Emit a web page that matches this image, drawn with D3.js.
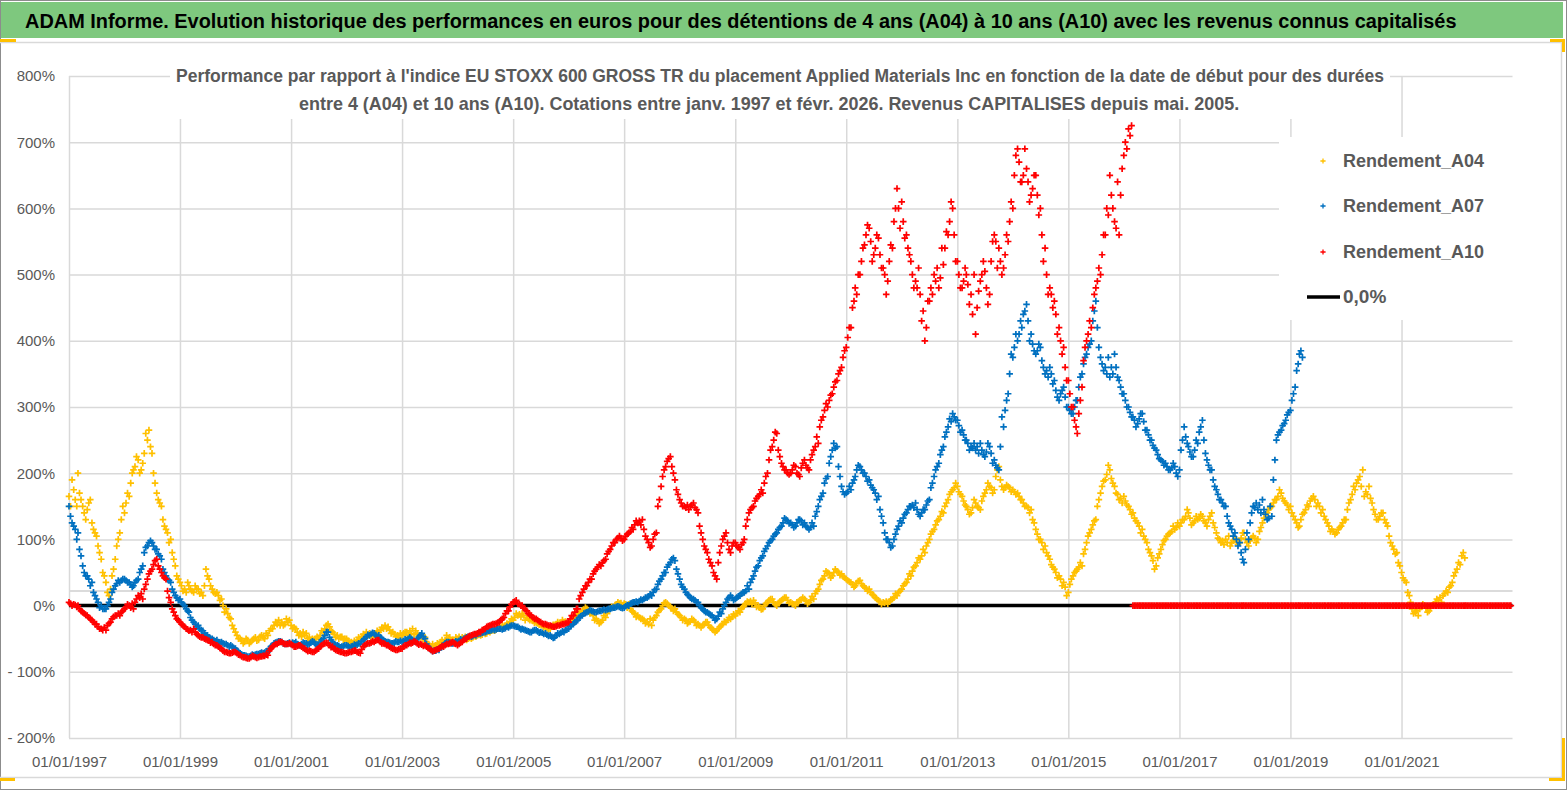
<!DOCTYPE html>
<html>
<head>
<meta charset="utf-8">
<script src="https://cdn.jsdelivr.net/npm/d3@7"></script>
<style>
  body { margin: 0; background: #fff; }
  svg { display: block; }
  text { font-family: "Liberation Sans Narrow", "Arial Narrow", Arial, sans-serif; }
</style>
</head>
<body>
<svg id="chart" width="1567" height="790"></svg>
<script>
// ---- data: three readings per month (start, ~11th, ~21st), from 01/1997 ----
const startDate = new Date(1997, 0, 1);
const readingDays = [0, 10, 20];

// Rendement_A04 (yellow), 01/1997 -> 02/2022, start of month
const a04 = [
  165, 175, 200, 150, 145, 125, 105, 70, 35, 25, 70, 110,      // 1997
  140, 165, 205, 220, 215, 250, 230, 170, 150, 115, 100, 60,   // 1998
  35, 25, 30, 20, 25, 15, 45, 25, 20, 10, -5, -20,             // 1999
  -40, -50, -55, -57, -50, -52, -48, -45, -35, -28, -25, -20,  // 2000
  -30, -35, -42, -45, -48, -52, -50, -40, -28, -40, -45, -47,  // 2001
  -50, -55, -57, -50, -45, -42, -45, -40, -35, -32, -40, -45,  // 2002
  -45, -40, -42, -38, -45, -48, -60, -62, -58, -55, -50, -52,  // 2003
  -50, -48, -52, -50, -47, -45, -43, -40, -38, -35, -32, -28,  // 2004
  -22, -15, -12, -18, -20, -25, -28, -32, -35, -30, -27, -25,  // 2005
  -25, -22, -15, -8, -5, -10, -20, -25, -18, -5, 0, 3,         // 2006
  3, 2, -10, -15, -20, -25, -30, -15, -5, 5, -2, -5,           // 2007
  -15, -20, -25, -22, -28, -30, -25, -35, -38, -30, -25, -20,  // 2008
  -15, -10, 0, 5, 8, 0, -5, 5, 10, 0, 8, 12,                   // 2009
  5, 0, 8, 10, 5, 10, 25, 40, 50, 45, 52, 48,                  // 2010
  40, 35, 30, 38, 28, 25, 15, 8, 5, 3, 10, 15,                 // 2011
  25, 35, 45, 60, 70, 80, 100, 115, 130, 140, 160, 175,        // 2012
  180, 165, 150, 140, 155, 145, 170, 180, 175, 210, 175, 180,  // 2013
  175, 170, 160, 150, 145, 115, 100, 90, 70, 55, 45, 35,       // 2014
  20, 45, 55, 60, 95, 115, 130, 170, 190, 205, 180, 160,       // 2015
  165, 150, 140, 125, 115, 95, 75, 60, 85, 100, 110, 115,      // 2016
  120, 130, 140, 125, 130, 135, 120, 140, 110, 95, 100, 90,    // 2017
  100, 95, 110, 90, 105, 100, 125, 140, 150, 160, 170, 155,    // 2018
  150, 130, 120, 140, 150, 165, 155, 145, 125, 115, 110, 120,  // 2019
  130, 160, 175, 195, 165, 180, 145, 130, 140, 120, 90, 80,    // 2020
  50, 35, 5, -10, -5, 0, -8, 2, 8, 15, 20, 35,                 // 2021
  55, 75                                                       // 2022
];
// Rendement_A04, around the 11th
const a04Mid = [
  150, 160, 170, 140, 155, 115, 90, 50, 20, 45, 90, 130,       // 1997
  155, 185, 210, 200, 230, 265, 200, 160, 130, 110, 80, 45,    // 1998
  30, 20, 25, 30, 18, 30, 40, 20, 15, 0, -12, -30,             // 1999
  -45, -52, -50, -55, -48, -47, -50, -38, -30, -22, -30, -25,  // 2000
  -35, -40, -47, -42, -52, -50, -45, -35, -32, -43, -50, -52,  // 2001
  -53, -57, -52, -47, -40, -48, -42, -37, -30, -37, -43, -48,  // 2002
  -42, -45, -35, -42, -47, -55, -62, -60, -55, -52, -48, -55,  // 2003
  -47, -50, -50, -48, -45, -44, -42, -38, -36, -33, -30, -25,  // 2004
  -18, -13, -15, -20, -23, -27, -30, -34, -32, -28, -26, -24,  // 2005
  -23, -18, -12, -6, -8, -15, -23, -22, -12, -2, 2, 4,         // 2006
  2, -5, -12, -18, -22, -28, -22, -10, 0, 3, -4, -10,          // 2007
  -18, -22, -24, -25, -30, -28, -30, -37, -35, -28, -22, -17,  // 2008
  -12, -5, 3, 7, 4, -3, 0, 8, 5, 4, 10, 8,                     // 2009
  3, 5, 9, 7, 8, 18, 32, 45, 48, 50, 50, 44,                   // 2010
  38, 32, 34, 33, 26, 20, 12, 6, 4, 6, 12, 20,                 // 2011
  30, 40, 52, 65, 75, 90, 108, 122, 135, 150, 168, 178,        // 2012
  172, 158, 145, 148, 150, 158, 175, 178, 195, 190, 178, 178,  // 2013
  172, 165, 155, 148, 130, 108, 95, 80, 62, 50, 40, 28,        // 2014
  32, 50, 58, 78, 105, 122, 150, 180, 198, 192, 170, 162,      // 2015
  158, 145, 132, 120, 105, 85, 68, 72, 92, 105, 112, 118,      // 2016
  125, 135, 132, 128, 132, 128, 130, 125, 102, 98, 95, 95,     // 2017
  98, 102, 100, 98, 102, 112, 132, 145, 155, 165, 162, 152,    // 2018
  140, 125, 130, 145, 158, 160, 150, 135, 120, 112, 115, 125,  // 2019
  145, 168, 185, 180, 172, 162, 138, 135, 130, 105, 85, 65,    // 2020
  42, 20, -5, -8, -2, -4, -3, 5, 12, 18, 28, 45,               // 2021
  65, 80                                                       // 2022
];
// Rendement_A04, around the 21st
const a04Late = [
  190, 150, 160, 130, 160, 110, 80, 45, 15, 55, 100, 150,      // 1997
  170, 200, 225, 205, 260, 240, 185, 155, 120, 95, 70, 40,     // 1998
  22, 35, 22, 25, 20, 55, 30, 18, 8, -10, -18, -35,            // 1999
  -50, -57, -52, -52, -53, -45, -42, -35, -25, -30, -28, -22,  // 2000
  -33, -45, -40, -50, -50, -47, -38, -30, -38, -48, -47, -50,  // 2001
  -56, -53, -48, -43, -45, -43, -38, -33, -35, -42, -47, -42,  // 2002
  -40, -38, -44, -46, -52, -58, -58, -57, -52, -45, -53, -48,  // 2003
  -52, -47, -49, -46, -44, -41, -39, -37, -34, -30, -27, -20,  // 2004
  -12, -17, -22, -22, -26, -29, -33, -36, -29, -25, -22, -27,  // 2005
  -20, -14, -9, -3, -12, -22, -27, -15, -7, -3, 5, 1,          // 2006
  -3, -8, -17, -20, -27, -20, -18, -7, 4, 0, -8, -13,          // 2007
  -22, -27, -20, -30, -33, -25, -33, -40, -32, -24, -18, -13,  // 2008
  -8, -2, 6, 2, -2, -6, 3, 10, 2, 6, 12, 4,                    // 2009
  2, 6, 12, 3, 14, 22, 38, 52, 42, 55, 46, 42,                 // 2010
  36, 28, 37, 30, 22, 17, 10, 2, 6, 9, 18, 22,                 // 2011
  33, 48, 58, 72, 85, 95, 112, 128, 142, 155, 172, 185,        // 2012
  168, 152, 138, 160, 148, 165, 185, 170, 205, 180, 182, 172,  // 2013
  168, 160, 150, 140, 125, 100, 85, 75, 58, 42, 30, 15,        // 2014
  40, 52, 65, 85, 110, 128, 160, 188, 212, 185, 168, 155,      // 2015
  152, 138, 128, 110, 100, 80, 55, 78, 98, 108, 120, 125,      // 2016
  130, 145, 122, 135, 138, 125, 135, 118, 100, 92, 105, 98,    // 2017
  92, 110, 95, 102, 95, 118, 138, 148, 160, 175, 158, 145,     // 2018
  135, 118, 138, 152, 162, 150, 140, 130, 112, 108, 118, 130,  // 2019
  155, 180, 190, 205, 168, 155, 130, 140, 125, 95, 78, 60,     // 2020
  38, 15, -12, -15, 2, -10, 0, 10, 5, 22, 30, 50,              // 2021
  62, 72                                                       // 2022
];

// Rendement_A07 (blue), 01/1997 -> 03/2019, start of month
const a07 = [
  150, 120, 110, 60, 45, 35, 10, 0, -5, 10, 30, 35,            // 1997
  40, 35, 30, 40, 60, 90, 95, 85, 70, 45, 35, 15,              // 1998
  10, 0, -10, -25, -30, -38, -45, -50, -52, -55, -58, -60,     // 1999
  -65, -72, -75, -77, -75, -73, -72, -70, -60, -55, -55, -58,  // 2000
  -58, -55, -60, -57, -58, -55, -60, -50, -40, -55, -60, -62,  // 2001
  -60, -62, -60, -58, -50, -45, -42, -45, -52, -55, -57, -55,  // 2002
  -55, -52, -50, -55, -45, -50, -65, -68, -67, -60, -55, -57,  // 2003
  -55, -52, -48, -47, -45, -42, -40, -38, -37, -35, -35, -33,  // 2004
  -30, -32, -35, -38, -40, -37, -40, -42, -45, -48, -43, -40,  // 2005
  -35, -28, -22, -15, -10, -8, -10, -8, -7, -5, -3, -2,        // 2006
  -3, 0, 5, 5, 8, 12, 15, 25, 40, 50, 65, 68,                  // 2007
  40, 25, 15, 10, 5, -5, -10, -15, -20, -12, 5, 15,            // 2008
  10, 15, 20, 25, 45, 60, 75, 90, 100, 110, 120, 130,          // 2009
  125, 120, 130, 125, 115, 120, 150, 170, 195, 235, 240, 180,  // 2010
  170, 175, 195, 210, 200, 190, 175, 165, 125, 100, 90, 115,   // 2011
  125, 140, 150, 155, 135, 145, 160, 195, 215, 240, 270, 290,  // 2012
  280, 265, 250, 240, 235, 245, 225, 240, 220, 205, 270, 320,  // 2013
  375, 400, 420, 455, 410, 380, 390, 350, 360, 340, 310, 330,  // 2014
  300, 290, 310, 350, 380, 400, 460, 375, 360, 345, 380, 340,  // 2015
  320, 300, 285, 275, 290, 265, 250, 235, 220, 215, 205, 210,  // 2016
  205, 270, 240, 225, 245, 280, 220, 205, 175, 160, 150, 120,  // 2017
  110, 95, 65, 100, 150, 145, 160, 130, 135, 250, 265, 280,    // 2018
  295, 330, 380                                                // 2019
];
// Rendement_A07, around the 11th
const a07Mid = [
  135, 115, 85, 50, 40, 20, 5, -5, 0, 20, 33, 38,              // 1997
  38, 32, 35, 50, 80, 95, 90, 78, 55, 40, 25, 12,              // 1998
  5, -5, -18, -28, -35, -42, -48, -52, -55, -57, -60, -62,     // 1999
  -68, -74, -76, -76, -74, -72, -71, -65, -57, -54, -57, -57,  // 2000
  -56, -58, -58, -57, -56, -58, -55, -45, -48, -58, -61, -61,  // 2001
  -61, -61, -59, -54, -47, -43, -44, -48, -54, -56, -56, -55,  // 2002
  -53, -50, -52, -50, -42, -58, -67, -68, -63, -57, -56, -56,  // 2003
  -53, -50, -47, -46, -43, -41, -39, -37, -36, -35, -34, -31,  // 2004
  -31, -34, -36, -39, -38, -39, -41, -44, -47, -45, -41, -37,  // 2005
  -31, -25, -18, -12, -9, -9, -9, -7, -6, -4, -2, -3,          // 2006
  -1, 3, 5, 7, 10, 14, 20, 32, 45, 58, 70, 55,                 // 2007
  32, 20, 12, 8, 0, -8, -12, -18, -16, -5, 10, 12,             // 2008
  12, 18, 22, 35, 52, 68, 82, 95, 105, 115, 125, 128,          // 2009
  122, 125, 128, 120, 118, 135, 160, 185, 215, 245, 210, 172,  // 2010
  172, 185, 205, 205, 195, 182, 170, 145, 110, 95, 100, 120,   // 2011
  132, 145, 152, 145, 140, 152, 178, 205, 228, 255, 282, 285,  // 2012
  272, 258, 245, 238, 240, 235, 232, 230, 212, 240, 295, 350,  // 2013
  390, 410, 440, 430, 395, 385, 370, 355, 350, 325, 320, 315,  // 2014
  295, 300, 330, 365, 390, 430, 420, 365, 350, 360, 360, 330,  // 2015
  310, 292, 280, 282, 278, 258, 242, 228, 218, 210, 208, 200,  // 2016
  235, 255, 232, 235, 262, 250, 212, 190, 168, 155, 135, 115,  // 2017
  100, 80, 85, 125, 148, 152, 145, 132, 190, 258, 272, 288,    // 2018
  310, 355, 385                                                // 2019
];
// Rendement_A07, around the 21st
const a07Late = [
  125, 100, 75, 45, 30, 15, -3, -5, 5, 25, 38, 40,             // 1997
  35, 28, 38, 55, 88, 98, 85, 75, 50, 38, 20, 8,               // 1998
  2, -8, -22, -32, -37, -45, -50, -54, -56, -58, -62, -64,     // 1999
  -70, -75, -77, -74, -73, -71, -69, -62, -56, -54, -58, -56,  // 2000
  -57, -60, -56, -59, -54, -60, -52, -40, -52, -60, -63, -60,  // 2001
  -63, -59, -57, -52, -44, -41, -47, -50, -55, -57, -54, -53,  // 2002
  -51, -48, -54, -48, -47, -62, -69, -66, -61, -55, -57, -54,  // 2003
  -51, -49, -46, -44, -42, -40, -38, -36, -35, -36, -32, -30,  // 2004
  -32, -36, -37, -40, -37, -41, -43, -46, -49, -42, -39, -36,  // 2005
  -29, -23, -16, -11, -7, -10, -8, -6, -5, -3, -1, -4,         // 2006
  1, 4, 6, 9, 12, 17, 24, 37, 50, 62, 72, 48,                  // 2007
  28, 17, 10, 5, -3, -10, -14, -22, -10, 0, 12, 8,             // 2008
  14, 20, 30, 40, 58, 72, 86, 98, 108, 118, 132, 124,          // 2009
  118, 130, 122, 118, 125, 142, 165, 192, 225, 238, 195, 168,  // 2010
  180, 190, 212, 200, 188, 178, 160, 135, 100, 88, 108, 128,   // 2011
  138, 150, 148, 138, 145, 158, 185, 210, 235, 262, 278, 280,  // 2012
  262, 250, 235, 245, 230, 228, 245, 215, 208, 285, 310, 380,  // 2013
  410, 430, 445, 400, 385, 395, 360, 345, 335, 315, 325, 300,  // 2014
  290, 310, 345, 375, 395, 445, 390, 355, 375, 350, 345, 320,  // 2015
  300, 285, 270, 290, 265, 250, 238, 222, 212, 205, 215, 195,  // 2016
  250, 245, 225, 250, 270, 230, 205, 180, 160, 150, 125, 105,  // 2017
  90, 70, 110, 140, 155, 140, 138, 150, 220, 262, 275, 292,    // 2018
  320, 365, 375                                                // 2019
];

// Rendement_A10 (red), 01/1997 -> 12/2022 (flat 0 after 02/2016), start of month
const a10 = [
  5, 2, 0, -10, -15, -22, -28, -35, -37, -25, -15, -15,        // 1997
  -5, 0, -5, 15, 10, 40, 55, 70, 50, 40, 5, -15,               // 1998
  -25, -32, -38, -35, -45, -48, -52, -55, -60, -65, -70, -72,  // 1999
  -70, -75, -78, -80, -77, -78, -76, -75, -62, -58, -55, -58,  // 2000
  -58, -62, -60, -65, -68, -70, -65, -58, -57, -62, -68, -70,  // 2001
  -72, -70, -68, -72, -60, -57, -55, -52, -57, -60, -65, -67,  // 2002
  -65, -60, -57, -55, -58, -60, -65, -68, -65, -62, -58, -55,  // 2003
  -60, -55, -50, -45, -43, -40, -35, -30, -28, -25, -18, -8,   // 2004
  5, 3, 0, -8, -15, -20, -25, -28, -30, -32, -30, -28,         // 2005
  -25, -15, -5, 20, 30, 40, 55, 60, 70, 85, 95, 105,           // 2006
  100, 110, 115, 125, 130, 100, 90, 110, 180, 210, 225, 190,   // 2007
  160, 150, 145, 155, 140, 100, 80, 60, 40, 90, 110, 80,       // 2008
  95, 85, 100, 140, 150, 165, 170, 200, 240, 260, 215, 205,    // 2009
  200, 210, 195, 220, 205, 235, 245, 285, 300, 320, 340, 360,  // 2010
  390, 420, 480, 500, 545, 570, 530, 555, 510, 490, 540, 630,  // 2011
  610, 560, 520, 490, 470, 400, 460, 500, 480, 515, 560, 600,  // 2012
  520, 480, 500, 470, 410, 490, 505, 470, 560, 540, 510, 550,  // 2013
  600, 690, 640, 660, 620, 650, 600, 540, 480, 460, 420, 390,  // 2014
  340, 300, 260, 330, 400, 420, 480, 500, 560, 650, 580, 560,  // 2015
  680, 720, 0, 0, 0, 0, 0, 0, 0, 0, 0, 0,                      // 2016
  0, 0, 0, 0, 0, 0, 0, 0, 0, 0, 0, 0,                          // 2017
  0, 0, 0, 0, 0, 0, 0, 0, 0, 0, 0, 0,                          // 2018
  0, 0, 0, 0, 0, 0, 0, 0, 0, 0, 0, 0,                          // 2019
  0, 0, 0, 0, 0, 0, 0, 0, 0, 0, 0, 0,                          // 2020
  0, 0, 0, 0, 0, 0, 0, 0, 0, 0, 0, 0,                          // 2021
  0, 0, 0, 0, 0, 0, 0, 0, 0, 0, 0, 0                           // 2022
];
// Rendement_A10, around the 11th
const a10Mid = [
  3, 1, -5, -12, -18, -25, -32, -37, -30, -20, -15, -10,       // 1997
  -2, -3, 5, 12, 25, 48, 62, 60, 45, 22, -5, -20,              // 1998
  -28, -35, -37, -40, -47, -50, -53, -58, -62, -68, -71, -71,  // 1999
  -72, -77, -79, -78, -78, -77, -76, -68, -60, -56, -57, -58,  // 2000
  -60, -61, -62, -67, -69, -68, -62, -57, -60, -65, -69, -71,  // 2001
  -71, -69, -70, -66, -58, -56, -53, -55, -58, -62, -66, -66,  // 2002
  -62, -58, -56, -57, -59, -62, -67, -67, -63, -60, -57, -57,  // 2003
  -58, -52, -47, -44, -42, -37, -32, -29, -27, -22, -12, -2,   // 2004
  6, 2, -4, -12, -18, -22, -27, -29, -31, -31, -29, -27,       // 2005
  -20, -10, 10, 25, 35, 48, 58, 65, 78, 90, 100, 102,          // 2006
  105, 112, 122, 128, 115, 95, 100, 150, 195, 218, 210, 175,   // 2007
  155, 148, 150, 148, 120, 90, 70, 50, 65, 100, 95, 90,        // 2008
  90, 92, 120, 145, 158, 168, 185, 220, 250, 235, 210, 200,    // 2009
  205, 200, 208, 212, 220, 240, 270, 295, 310, 330, 350, 375,  // 2010
  405, 450, 470, 520, 560, 550, 540, 530, 500, 520, 580, 600,  // 2011
  580, 540, 500, 480, 430, 420, 480, 490, 495, 540, 580, 560,  // 2012
  500, 490, 485, 440, 450, 500, 480, 520, 550, 520, 530, 580,  // 2013
  650, 670, 650, 640, 630, 620, 560, 500, 470, 440, 400, 360,  // 2014
  320, 280, 290, 370, 410, 450, 490, 530, 600, 620, 570, 620,  // 2015
  700, 710, 0, 0, 0, 0, 0, 0, 0, 0, 0, 0,                      // 2016
  0, 0, 0, 0, 0, 0, 0, 0, 0, 0, 0, 0,                          // 2017
  0, 0, 0, 0, 0, 0, 0, 0, 0, 0, 0, 0,                          // 2018
  0, 0, 0, 0, 0, 0, 0, 0, 0, 0, 0, 0,                          // 2019
  0, 0, 0, 0, 0, 0, 0, 0, 0, 0, 0, 0,                          // 2020
  0, 0, 0, 0, 0, 0, 0, 0, 0, 0, 0, 0,                          // 2021
  0, 0, 0, 0, 0, 0, 0, 0, 0, 0, 0, 0                           // 2022
];
// Rendement_A10, around the 21st
const a10Late = [
  0, -2, -8, -14, -20, -28, -35, -33, -27, -17, -12, -8,       // 1997
  2, 3, 10, 18, 32, 52, 68, 55, 42, 12, -10, -22,              // 1998
  -30, -36, -40, -43, -48, -51, -56, -60, -64, -70, -72, -70,  // 1999
  -74, -78, -80, -76, -79, -77, -74, -65, -58, -55, -58, -57,  // 2000
  -62, -60, -64, -69, -70, -66, -60, -56, -63, -67, -70, -72,  // 2001
  -70, -68, -71, -62, -57, -54, -52, -57, -60, -64, -67, -65,  // 2002
  -60, -56, -54, -59, -61, -64, -69, -66, -61, -58, -56, -58,  // 2003
  -56, -50, -46, -43, -40, -36, -31, -28, -26, -20, -8, 2,     // 2004
  8, 0, -6, -14, -20, -24, -28, -30, -32, -30, -28, -26,       // 2005
  -15, -5, 15, 30, 40, 52, 62, 68, 82, 95, 102, 98,            // 2006
  108, 118, 128, 122, 105, 88, 108, 160, 205, 222, 200, 168,   // 2007
  150, 152, 152, 145, 110, 85, 65, 45, 80, 105, 85, 95,        // 2008
  88, 95, 130, 148, 162, 175, 195, 235, 262, 225, 205, 198,    // 2009
  212, 198, 215, 208, 228, 255, 280, 305, 318, 338, 355, 385,  // 2010
  420, 460, 500, 540, 575, 520, 560, 510, 470, 545, 600, 570,  // 2011
  555, 530, 480, 510, 445, 460, 470, 510, 540, 565, 610, 520,  // 2012
  480, 510, 455, 500, 475, 520, 455, 550, 510, 500, 560, 610,  // 2013
  680, 640, 690, 610, 650, 590, 520, 470, 450, 410, 380, 340,  // 2014
  300, 270, 310, 390, 430, 470, 510, 560, 590, 600, 640, 660,  // 2015
  690, 725, 0, 0, 0, 0, 0, 0, 0, 0, 0, 0,                      // 2016
  0, 0, 0, 0, 0, 0, 0, 0, 0, 0, 0, 0,                          // 2017
  0, 0, 0, 0, 0, 0, 0, 0, 0, 0, 0, 0,                          // 2018
  0, 0, 0, 0, 0, 0, 0, 0, 0, 0, 0, 0,                          // 2019
  0, 0, 0, 0, 0, 0, 0, 0, 0, 0, 0, 0,                          // 2020
  0, 0, 0, 0, 0, 0, 0, 0, 0, 0, 0, 0,                          // 2021
  0, 0, 0, 0, 0, 0, 0, 0, 0, 0, 0, 0                           // 2022
];

const seriesNames = ["Rendement_A04", "Rendement_A07", "Rendement_A10"];
const seriesColors = ["#FFC000", "#0070C0", "#FF0000"];
const zeroName = "0,0%";
const zeroValue = 0;
const axisCross = 22;   // grey horizontal axis line drawn a little above 0
const yTicks = [-200, -100, 0, 100, 200, 300, 400, 500, 600, 700, 800];
const xTickYears = [1997, 1999, 2001, 2003, 2005, 2007, 2009, 2011, 2013, 2015, 2017, 2019, 2021];
const xDomain = [new Date(1997, 0, 1), new Date(2023, 0, 1)];

const mainTitle = "ADAM Informe. Evolution historique des performances en euros pour des détentions de 4 ans (A04) à 10 ans (A10) avec les revenus connus capitalisés";
const subTitle1 = "Performance par rapport à l'indice EU STOXX 600 GROSS TR  du placement Applied Materials Inc en fonction de la date de début pour des durées";
const subTitle2 = "entre 4 (A04) et 10 ans (A10). Cotations entre janv. 1997 et févr. 2026. Revenus CAPITALISES depuis mai. 2005.";

// ---- layout ----
const W = 1567, H = 790;
const PLOT_LEFT = 69, PLOT_RIGHT = 1512.5, PLOT_TOP = 76, PLOT_BOTTOM = 738;
const GRID = "#d9d9d9", TEXT = "#595959", ORANGE = "#FFC000";

const svg = d3.select("#chart");

// scale a text's font size so its natural width matches the reference width
function fitWidth(sel, width, maxSize) {
  const w = sel.node().getComputedTextLength();
  const size = Math.min(maxSize, +sel.attr("font-size") * width / w);
  sel.attr("font-size", size.toFixed(2));
}

// frame and title bar
svg.append("rect").attr("x", 0.5).attr("y", 0.5).attr("width", W - 1).attr("height", H - 1)
  .attr("fill", "#fff").attr("stroke", "#8c8c8c");
svg.append("rect").attr("x", 1).attr("y", 2).attr("width", 1562).attr("height", 36).attr("fill", "#7ec87e");
svg.append("path").attr("d", "M0,42.5H1561.5V777.5H0").attr("fill", "none").attr("stroke", GRID).attr("stroke-width", 1.5);

const title = svg.append("text")
  .attr("x", 25).attr("y", 27.5)
  .attr("font-size", 22).attr("font-weight", "bold").attr("fill", "#000")
  .text(mainTitle);
fitWidth(title, 1432, 24);

// scales
const x = d3.scaleTime().domain(xDomain).range([PLOT_LEFT, PLOT_RIGHT]);
const y = d3.scaleLinear().domain([-200, 800]).range([PLOT_BOTTOM, PLOT_TOP]);

// horizontal grid + y labels
const yAxis = svg.append("g")
  .attr("transform", `translate(${PLOT_LEFT},0)`)
  .call(d3.axisLeft(y).tickValues(yTicks).tickSize(-(PLOT_RIGHT - PLOT_LEFT)).tickPadding(14)
    .tickFormat(d => d === 0 ? "0%" : (d < 0 ? "- " + (-d) + "%" : d + "%")));
yAxis.select(".domain").remove();
yAxis.selectAll(".tick line").attr("stroke", GRID).attr("stroke-width", 1.5);
yAxis.selectAll(".tick text").attr("fill", TEXT).attr("font-size", 15)
  .attr("font-family", "'Liberation Sans Narrow', Arial, sans-serif");

// grey horizontal axis line
svg.append("line")
  .attr("x1", PLOT_LEFT).attr("x2", PLOT_RIGHT)
  .attr("y1", y(axisCross)).attr("y2", y(axisCross))
  .attr("stroke", "#cfcfcf").attr("stroke-width", 1.5);

// vertical grid + x labels
const xTicks = xTickYears.map(yr => new Date(yr, 0, 1));
const xAxis = svg.append("g")
  .attr("transform", `translate(0,${PLOT_BOTTOM})`)
  .call(d3.axisBottom(x).tickValues(xTicks).tickSize(-(PLOT_BOTTOM - PLOT_TOP)).tickPadding(18)
    .tickFormat(d3.timeFormat("%d/%m/%Y")));
xAxis.select(".domain").remove();
xAxis.selectAll(".tick line").attr("stroke", GRID).attr("stroke-width", 1.5);
xAxis.selectAll(".tick text").attr("fill", TEXT).attr("font-size", 15)
  .attr("font-family", "'Liberation Sans Narrow', Arial, sans-serif");

// zero line
svg.append("line")
  .attr("x1", x(xDomain[0])).attr("x2", x(xDomain[1]))
  .attr("y1", y(zeroValue)).attr("y2", y(zeroValue))
  .attr("stroke", "#000").attr("stroke-width", 3.5);

// scatter series of '+' markers
const plus = r => `M${-r},0H${r}M0,${-r}V${r}`;
const seriesData = [[a04, a04Mid, a04Late], [a07, a07Mid, a07Late], [a10, a10Mid, a10Late]];
seriesData.forEach((readings, k) => {
  const pts = [];
  readings.forEach((vals, r) => vals.forEach((v, i) => pts.push({
    date: d3.timeDay.offset(d3.timeMonth.offset(startDate, i), readingDays[r]),
    value: v
  })));
  svg.append("g").attr("class", "series-" + k)
    .selectAll("path")
    .data(pts)
    .join("path")
    .attr("transform", d => `translate(${x(d.date)},${y(d.value)})`)
    .attr("d", plus(3.3))
    .attr("fill", "none")
    .attr("stroke", seriesColors[k])
    .attr("stroke-width", 1.7);
});

// subtitle box (covers the grid like in Excel)
svg.append("rect").attr("x", 170).attr("y", 60).attr("width", 1220).attr("height", 59).attr("fill", "#fff");
const sub1 = svg.append("text").attr("x", 176).attr("y", 82).attr("font-size", 19).attr("font-weight", "bold")
  .attr("fill", TEXT).text(subTitle1);
fitWidth(sub1, 1209, 20);
const sub2 = svg.append("text").attr("x", 299).attr("y", 110).attr("font-size", 19).attr("font-weight", "bold")
  .attr("fill", TEXT).text(subTitle2);
fitWidth(sub2, 941, 20);

// legend
const legend = svg.append("g");
legend.append("rect").attr("x", 1279).attr("y", 137).attr("width", 236).attr("height", 183).attr("fill", "#fff");
const legendY = [161, 206, 252, 297];
seriesNames.forEach((name, k) => {
  legend.append("path")
    .attr("transform", `translate(1323,${legendY[k]})`)
    .attr("d", plus(2.6)).attr("fill", "none")
    .attr("stroke", seriesColors[k]).attr("stroke-width", 1.3);
  const t = legend.append("text").attr("x", 1343).attr("y", legendY[k] + 6)
    .attr("font-size", 19).attr("font-weight", "bold").attr("fill", TEXT).text(name);
  fitWidth(t, 141, 20);
});
legend.append("line").attr("x1", 1307).attr("x2", 1340).attr("y1", legendY[3]).attr("y2", legendY[3])
  .attr("stroke", "#000").attr("stroke-width", 3.5);
legend.append("text").attr("x", 1343).attr("y", legendY[3] + 6)
  .attr("font-size", 19).attr("font-weight", "bold").attr("fill", TEXT).text(zeroName);

// orange selection handles
const handles = [
  "M0,40.5H16",
  "M1550,40.5H1563.5V52",
  "M0,779.5H15",
  "M1563.5,738V779.5H1549"
];
svg.selectAll(".handle").data(handles).join("path")
  .attr("class", "handle").attr("d", d => d)
  .attr("fill", "none").attr("stroke", ORANGE).attr("stroke-width", 3);
</script>
</body>
</html>
